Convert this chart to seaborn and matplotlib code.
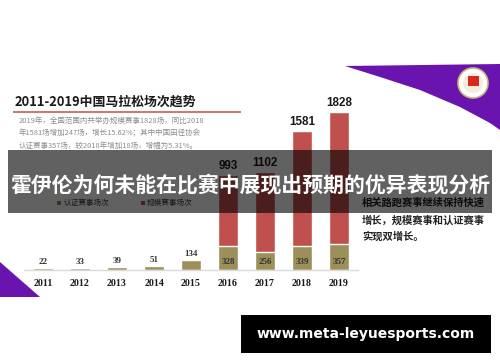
import matplotlib
matplotlib.use("Agg")
import matplotlib.pyplot as plt
import seaborn as sns
import pandas as pd
from matplotlib.patches import Rectangle, Polygon, Circle

# ---- data ----
years = ["2011", "2012", "2013", "2014", "2015", "2016", "2017", "2018", "2019"]
certified = [22, 33, 39, 51, 134, 328, 256, 339, 357]      # 认证赛事场次
scale_events = [0, 0, 0, 0, 0, 993, 1102, 1581, 1828]      # 规模赛事场次
legend_labels = ["认证赛事场次", "规模赛事场次"]
title = "2011-2019中国马拉松场次趋势"
para = ["2019年，全国范围内共举办规模赛事1828场，同比2018",
        "年1581场增加247场，增长15.62%；其中中国田径协会",
        "认证赛事357场，较2018年增加18场，增幅为5.31%。"]
side_text = ["相关路跑赛事继续保持快速", "增长，规模赛事和认证赛事", "实现双增长。"]
overlay_title = "霍伊伦为何未能在比赛中展现出预期的优异表现分析"
site = "www.meta-leyuesports.com"

RED = "#c0504d"
OLIVE = "#9d8f5a"
PURPLE = "#6a14b0"

sns.set_theme(style="white")
plt.rcParams["font.family"] = ["Noto Sans CJK SC", "DejaVu Sans"]

W, H = 500, 362
fig = plt.figure(figsize=(W / 100, H / 100), dpi=100)
fig.patch.set_facecolor("white")

# background decorative axes in pixel coords
bg = fig.add_axes([0, 0, 1, 1], zorder=0)
bg.set_xlim(0, W); bg.set_ylim(H, 0); bg.axis("off")

# top-right purple swoosh
bg.add_patch(Polygon([(345, 66), (500, 64), (500, 130), (490, 123), (460, 107),
                      (420, 90), (380, 77)], closed=True, color=PURPLE, lw=0))
bg.add_patch(Circle((473, 83), 15, facecolor="white", edgecolor="#c9b67a", lw=1.2))
bg.add_patch(Circle((473, 83), 10, facecolor="#f4eddc", edgecolor="none"))
bg.add_patch(Rectangle((468, 76), 11, 10, color="#d62a1e", lw=0))
# bottom-left purple corner
bg.add_patch(Polygon([(0, 262), (40, 297), (0, 297)], closed=True, color=PURPLE, lw=0))

bg.text(15, 102, title, fontsize=9.3, fontweight="bold", color="#1a1a1a",
        ha="left", va="center")
bg.plot([13, 241], [112, 112], color="#c77b7b", lw=1.5, solid_capstyle="butt")
for k, line in enumerate(para):
    bg.text(19, 121 + 12.5 * k, line, fontsize=5.4, color="#8c8c8c",
            ha="left", va="center")

# legend
bg.add_patch(Rectangle((57, 200.5), 4, 4, color=OLIVE, lw=0))
bg.text(64, 203, legend_labels[0], fontsize=5.5, color="#404040", ha="left", va="center")
bg.add_patch(Rectangle((141, 200.5), 4, 4, color=RED, lw=0))
bg.text(147, 203, legend_labels[1], fontsize=5.5, color="#404040", ha="left", va="center")

for k, line in enumerate(side_text):
    bg.text(362, 203 + 17 * k, line, fontsize=7.4, fontweight="bold", color="#222222",
            ha="left", va="center")

# main chart axes
base_px, top_px = 270, 80
left_px, right_px = 24.5, 357.5
ax = fig.add_axes([left_px / W, (H - base_px) / H, (right_px - left_px) / W,
                   (base_px - top_px) / H], zorder=1)
ax.patch.set_alpha(0)

totals = [c + s for c, s in zip(certified, scale_events)]
df = pd.DataFrame({"year": years, "total": totals, "certified": certified})
sns.barplot(data=df, x="year", y="total", color=RED, saturation=1, width=0.54, ax=ax)
sns.barplot(data=df, x="year", y="certified", color=OLIVE, saturation=1, width=0.54, ax=ax)

ymax = 2630
ax.set_ylim(0, ymax)
ax.set_xlim(-0.5, len(years) - 0.5)
px = ymax / (base_px - top_px)

for i, (c, s, t) in enumerate(zip(certified, scale_events, totals)):
    cy = c + 6 * px if c < 200 else 8 * px
    ax.text(i, cy, str(c), fontsize=6.4, fontweight="bold", color="#333333",
            family="Liberation Serif", ha="center", va="center")
    if s > 0:
        ax.text(i, t + 9 * px, str(s), fontsize=8.4, fontweight="bold", color="#1a1a1a",
                family="Liberation Sans", ha="center", va="center")

for sp in ["left", "right", "top"]:
    ax.spines[sp].set_visible(False)
ax.spines["bottom"].set_color("#d9d9d9")
ax.spines["bottom"].set_linewidth(1)
ax.set_yticks([])
ax.set_xlabel(""); ax.set_ylabel("")
ax.tick_params(axis="x", length=0, pad=6.5)
for lab in ax.get_xticklabels():
    lab.set_fontfamily("Liberation Serif")
    lab.set_fontweight("bold")
    lab.set_fontsize(7.2)
    lab.set_color("#1a1a1a")

# overlay axes
ov = fig.add_axes([0, 0, 1, 1], zorder=3)
ov.set_xlim(0, W); ov.set_ylim(H, 0); ov.axis("off"); ov.patch.set_alpha(0)
ov.add_patch(Rectangle((8, 150), 484, 63, color="black", alpha=0.62, lw=0))
ov.text(250, 185, overlay_title, fontsize=15, fontweight="bold", color="white",
        ha="center", va="center")
ov.add_patch(Rectangle((241, 315), 250, 38, color="black", lw=0))
ov.text(366, 334, site, fontsize=10, fontweight="bold", color="white",
        family="DejaVu Sans", ha="center", va="center")

fig.savefig("out.png", dpi=100, facecolor="white")
